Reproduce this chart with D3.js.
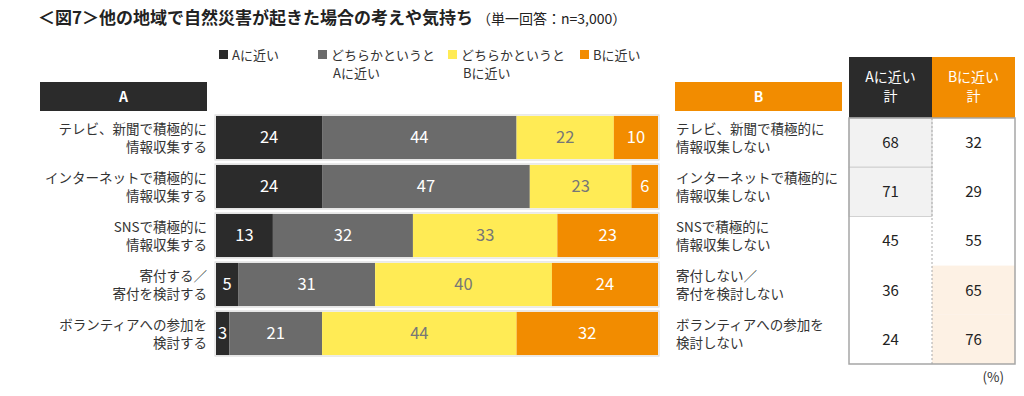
<!DOCTYPE html>
<html>
<head>
<meta charset="utf-8">
<script src="https://cdn.jsdelivr.net/npm/d3@7"></script>
<style>
  body { margin: 0; background: #fff; }
  text { font-family: "Noto Sans CJK JP", "Noto Sans", sans-serif; }
</style>
</head>
<body>
<div id="chart"></div>
<script>
// data
var labelsA = [
  ["テレビ、新聞で積極的に", "情報収集する"],
  ["インターネットで積極的に", "情報収集する"],
  ["SNSで積極的に", "情報収集する"],
  ["寄付する／", "寄付を検討する"],
  ["ボランティアへの参加を", "検討する"]
];
var labelsB = [
  ["テレビ、新聞で積極的に", "情報収集しない"],
  ["インターネットで積極的に", "情報収集しない"],
  ["SNSで積極的に", "情報収集しない"],
  ["寄付しない／", "寄付を検討しない"],
  ["ボランティアへの参加を", "検討しない"]
];
var seriesNames = [
  ["Aに近い"],
  ["どちらかというと", "Aに近い"],
  ["どちらかというと", "Bに近い"],
  ["Bに近い"]
];
var nearA   = [24, 24, 13, 5, 3];
var ratherA = [44, 47, 32, 31, 21];
var ratherB = [22, 23, 33, 40, 44];
var nearB   = [10, 6, 23, 24, 32];
var totalA  = [68, 71, 45, 36, 24];
var totalB  = [32, 29, 55, 65, 76];

var colors = ["#2b2b2b", "#6b6b6b", "#ffeb55", "#f28c00"];
var labelColors = ["#fff", "#fff", "#777", "#fff"];
var keys = ["a", "ra", "rb", "b"];

var rows = nearA.map(function(d, i) {
  return {i: i, a: nearA[i], ra: ratherA[i], rb: ratherB[i], b: nearB[i]};
});

var svg = d3.select("#chart").append("svg")
    .attr("width", 1024)
    .attr("height", 396);

// title
var title = svg.append("text")
    .attr("x", 38)
    .attr("y", 24)
    .attr("fill", "#222");
title.append("tspan")
    .attr("font-size", 17)
    .attr("font-weight", "bold")
    .text("＜図7＞他の地域で自然災害が起きた場合の考えや気持ち");
title.append("tspan")
    .attr("font-size", 14)
    .attr("dx", 4)
    .text("（単一回答：n=3,000）");

// scales
var x = d3.scaleLinear().domain([0, 1]).range([216, 658]);
var y = d3.scaleBand().domain(d3.range(rows.length))
    .range([113, 358]).paddingInner(0.12).paddingOuter(0.06);
var yt = d3.scaleBand().domain(d3.range(rows.length)).range([118, 364]);

// legend
var legendX = [219, 318, 448, 580];
var legend = svg.selectAll(".legend")
    .data(seriesNames)
    .enter().append("g")
    .attr("class", "legend")
    .attr("transform", function(d, i) { return "translate(" + legendX[i] + ",50)"; });
legend.append("rect")
    .attr("width", 9).attr("height", 9)
    .attr("y", 0)
    .attr("fill", function(d, i) { return colors[i]; });
legend.append("text")
    .attr("x", 13)
    .attr("y", 10)
    .attr("font-size", 13)
    .attr("fill", "#333")
    .selectAll("tspan")
    .data(function(d) { return d; })
    .enter().append("tspan")
    .attr("x", function(d, i) { return i == 0 ? 13 : 15; })
    .attr("dy", function(d, i) { return i == 0 ? 0 : 18; })
    .text(function(d) { return d; });

// A / B header boxes
var headers = [{t: "A", x: 40, c: colors[0]}, {t: "B", x: 675, c: colors[3]}];
headers.forEach(function(h) {
  svg.append("rect")
      .attr("x", h.x).attr("y", 82)
      .attr("width", 167).attr("height", 29)
      .attr("fill", h.c);
  svg.append("text")
      .attr("x", h.x + 83.5).attr("y", 102)
      .attr("text-anchor", "middle")
      .attr("font-size", 14)
      .attr("font-weight", "bold")
      .attr("fill", "#fff")
      .text(h.t);
});

// bars
var stack = d3.stack().keys(keys).offset(d3.stackOffsetExpand);
var stacked = stack(rows);

svg.selectAll(".barbg")
    .data(rows)
    .enter().append("rect")
    .attr("class", "barbg")
    .attr("x", x(0) - 1)
    .attr("y", function(d) { return y(d.i) - 1; })
    .attr("width", x(1) - x(0) + 2)
    .attr("height", y.bandwidth() + 2)
    .attr("fill", "#fff")
    .attr("stroke", "#d9d9d9");

var layer = svg.selectAll(".layer")
    .data(stacked)
    .enter().append("g")
    .attr("class", "layer");

layer.selectAll("rect")
    .data(function(d) { return d; })
    .enter().append("rect")
    .attr("x", function(d) { return x(d[0]); })
    .attr("y", function(d) { return y(d.data.i); })
    .attr("width", function(d) { return x(d[1]) - x(d[0]); })
    .attr("height", y.bandwidth())
    .attr("fill", function() { return colors[d3.select(this.parentNode).datum().index]; });

layer.selectAll("text")
    .data(function(d) { return d.map(function(s) { return {s: s, key: d.key, index: d.index}; }); })
    .enter().append("text")
    .attr("x", function(d) { return (x(d.s[0]) + x(d.s[1])) / 2; })
    .attr("y", function(d) { return y(d.s.data.i) + y.bandwidth() / 2; })
    .attr("dy", "0.36em")
    .attr("text-anchor", "middle")
    .attr("font-size", 16.5)
    .attr("fill", function(d) { return labelColors[d.index]; })
    .text(function(d) { return d.s.data[d.key]; });

// row labels
function rowLabels(data, xPos, anchor) {
  svg.selectAll(null)
      .data(data)
      .enter().append("text")
      .attr("x", xPos)
      .attr("y", function(d, i) { return y(i) + y.bandwidth() / 2 - 4; })
      .attr("text-anchor", anchor)
      .attr("font-size", 13.5)
      .attr("fill", "#333")
      .selectAll("tspan")
      .data(function(d) { return d; })
      .enter().append("tspan")
      .attr("x", xPos)
      .attr("dy", function(d, i) { return i == 0 ? 0 : 18; })
      .text(function(d) { return d; });
}
rowLabels(labelsA, 207, "end");
rowLabels(labelsB, 676, "start");

// totals table
var colX = [849, 932], colW = 83;
var heads = [["Aに近い", "計"], ["Bに近い", "計"]];
heads.forEach(function(h, c) {
  svg.append("rect")
      .attr("x", colX[c]).attr("y", 57)
      .attr("width", colW).attr("height", 61)
      .attr("fill", c == 0 ? colors[0] : colors[3]);
  svg.append("text")
      .attr("x", colX[c] + colW / 2).attr("y", 82)
      .attr("text-anchor", "middle")
      .attr("font-size", 14)
      .attr("fill", "#fff")
      .selectAll("tspan")
      .data(h)
      .enter().append("tspan")
      .attr("x", colX[c] + colW / 2)
      .attr("dy", function(d, i) { return i == 0 ? 0 : 19; })
      .text(function(d) { return d; });
});

// shading: strong A rows grey on the left, strong B rows peach on the right
svg.selectAll(".shadeA")
    .data(totalA)
    .enter().filter(function(d) { return d > 60; })
    .append("rect")
    .attr("x", colX[0])
    .attr("y", function(d) { return yt(totalA.indexOf(d)); })
    .attr("width", colW)
    .attr("height", yt.bandwidth())
    .attr("fill", "#f2f2f2")
    .attr("stroke", "#c8c8c8")
    .attr("stroke-width", 0.8);
svg.selectAll(".shadeB")
    .data(totalB)
    .enter().filter(function(d) { return d > 60; })
    .append("rect")
    .attr("x", colX[1])
    .attr("y", function(d) { return yt(totalB.indexOf(d)); })
    .attr("width", colW)
    .attr("height", yt.bandwidth())
    .attr("fill", "#fdf1e4");

svg.append("line")
    .attr("x1", colX[1]).attr("x2", colX[1])
    .attr("y1", 118).attr("y2", 364)
    .attr("stroke", "#aaa")
    .attr("stroke-dasharray", "2,2");
svg.append("rect")
    .attr("x", colX[0]).attr("y", 118)
    .attr("width", colW * 2).attr("height", 246)
    .attr("fill", "none")
    .attr("stroke", "#a6a6a6")
    .attr("stroke-width", 1.5);

[totalA, totalB].forEach(function(vals, c) {
  svg.selectAll(null)
      .data(vals)
      .enter().append("text")
      .attr("x", colX[c] + colW / 2)
      .attr("y", function(d, i) { return yt(i) + yt.bandwidth() / 2; })
      .attr("dy", "0.36em")
      .attr("text-anchor", "middle")
      .attr("font-size", 15)
      .attr("fill", "#222")
      .text(function(d) { return d; });
});

svg.append("text")
    .attr("x", 1004).attr("y", 382)
    .attr("text-anchor", "end")
    .attr("font-size", 13.5)
    .attr("fill", "#333")
    .text("(%)");
</script>
</body>
</html>
